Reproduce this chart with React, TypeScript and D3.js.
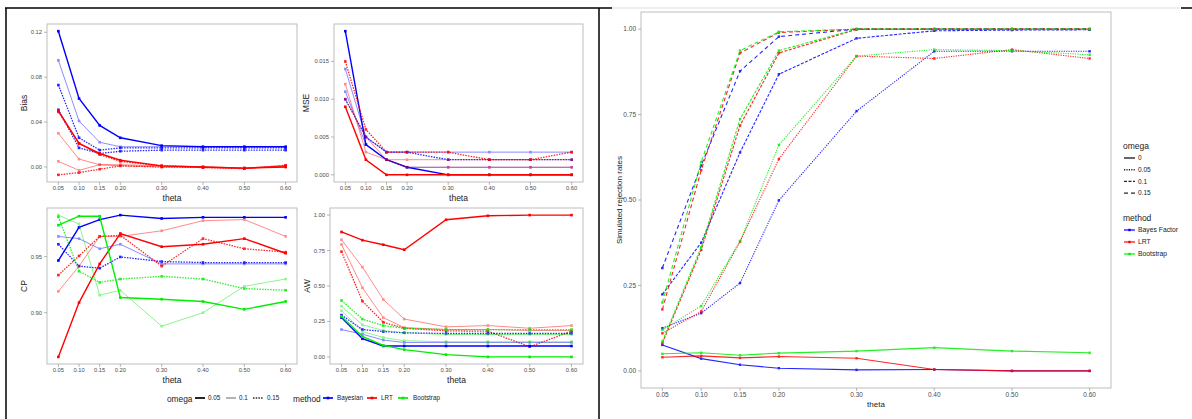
import React from 'react';
import * as d3 from 'd3';

// theta grid shared by every panel
const theta = [0.05, 0.1, 0.15, 0.2, 0.3, 0.4, 0.5, 0.6];

// left figure: Bias
const biasSeries = [
  { method: 'Bayesian', omega: '0.05', values: [0.121, 0.061, 0.037, 0.026, 0.019, 0.018, 0.018, 0.018] },
  { method: 'Bayesian', omega: '0.1', values: [0.095, 0.041, 0.022, 0.018, 0.018, 0.018, 0.018, 0.018] },
  { method: 'Bayesian', omega: '0.15', values: [0.073, 0.026, 0.015, 0.017, 0.017, 0.017, 0.017, 0.017] },
  { method: 'Bayesian', omega: '0.15', values: [0.051, 0.017, 0.012, 0.014, 0.015, 0.015, 0.015, 0.015] },
  { method: 'LRT', omega: '0.05', values: [0.050, 0.021, 0.012, 0.006, 0.001, 0.0, -0.001, 0.0] },
  { method: 'LRT', omega: '0.15', values: [0.049, 0.021, 0.011, 0.005, 0.001, 0.0, -0.001, 0.001] },
  { method: 'LRT', omega: '0.1', values: [0.030, 0.007, 0.002, 0.002, 0.001, 0.0, -0.001, 0.0] },
  { method: 'LRT', omega: '0.1', values: [0.005, -0.003, 0.002, 0.001, 0.0, -0.0005, -0.0015, 0.001] },
  { method: 'LRT', omega: '0.15', values: [-0.007, -0.005, -0.002, 0.001, 0.0, -0.0005, -0.0015, 0.0015] },
];

// left figure: MSE
const mseSeries = [
  { method: 'Bayesian', omega: '0.05', values: [0.019, 0.004, 0.002, 0.001, 0.0, 0.0, 0.0, 0.0] },
  { method: 'Bayesian', omega: '0.1', values: [0.014, 0.005, 0.003, 0.003, 0.003, 0.003, 0.003, 0.003] },
  { method: 'Bayesian', omega: '0.1', values: [0.011, 0.004, 0.002, 0.001, 0.001, 0.001, 0.001, 0.001] },
  { method: 'Bayesian', omega: '0.15', values: [0.010, 0.005, 0.003, 0.003, 0.002, 0.002, 0.002, 0.002] },
  { method: 'LRT', omega: '0.05', values: [0.009, 0.002, 0.0, 0.0, 0.0, 0.0, 0.0, 0.0] },
  { method: 'LRT', omega: '0.1', values: [0.012, 0.003, 0.002, 0.001, 0.001, 0.001, 0.001, 0.001] },
  { method: 'LRT', omega: '0.1', values: [0.010, 0.005, 0.002, 0.002, 0.002, 0.002, 0.002, 0.002] },
  { method: 'LRT', omega: '0.15', values: [0.015, 0.006, 0.003, 0.003, 0.003, 0.002, 0.002, 0.003] },
];

// left figure: CP
const cpSeries = [
  { method: 'Bayesian', omega: '0.05', values: [0.9465, 0.976, 0.983, 0.987, 0.984, 0.985, 0.985, 0.985] },
  { method: 'Bayesian', omega: '0.1', values: [0.968, 0.966, 0.957, 0.961, 0.9435, 0.9435, 0.9435, 0.9435] },
  { method: 'Bayesian', omega: '0.15', values: [0.961, 0.9415, 0.9397, 0.9497, 0.9456, 0.9447, 0.9447, 0.9447] },
  { method: 'LRT', omega: '0.05', values: [0.8606, 0.909, 0.9435, 0.9706, 0.9588, 0.961, 0.966, 0.953] },
  { method: 'LRT', omega: '0.1', values: [0.919, 0.9415, 0.968, 0.968, 0.973, 0.982, 0.983, 0.968] },
  { method: 'LRT', omega: '0.15', values: [0.9335, 0.9506, 0.968, 0.969, 0.9415, 0.966, 0.957, 0.954] },
  { method: 'Bootstrap', omega: '0.05', values: [0.978, 0.986, 0.986, 0.9135, 0.912, 0.91, 0.903, 0.91] },
  { method: 'Bootstrap', omega: '0.1', values: [0.987, 0.979, 0.9156, 0.92, 0.888, 0.9, 0.9235, 0.93] },
  { method: 'Bootstrap', omega: '0.15', values: [0.9855, 0.937, 0.927, 0.93, 0.9324, 0.93, 0.9215, 0.92] },
];

// left figure: AW
const awSeries = [
  { method: 'LRT', omega: '0.05', values: [0.881, 0.823, 0.791, 0.756, 0.967, 0.995, 1.0, 1.0] },
  { method: 'LRT', omega: '0.1', values: [0.826, 0.633, 0.405, 0.267, 0.212, 0.221, 0.202, 0.221] },
  { method: 'LRT', omega: '0.1', values: [0.793, 0.488, 0.277, 0.207, 0.193, 0.193, 0.186, 0.186] },
  { method: 'LRT', omega: '0.15', values: [0.742, 0.393, 0.244, 0.202, 0.184, 0.181, 0.072, 0.181] },
  { method: 'Bayesian', omega: '0.05', values: [0.277, 0.128, 0.077, 0.077, 0.077, 0.077, 0.077, 0.077] },
  { method: 'Bayesian', omega: '0.1', values: [0.193, 0.16, 0.119, 0.102, 0.102, 0.102, 0.102, 0.102] },
  { method: 'Bayesian', omega: '0.15', values: [0.295, 0.193, 0.179, 0.17, 0.165, 0.165, 0.165, 0.165] },
  { method: 'Bootstrap', omega: '0.05', values: [0.285, 0.144, 0.081, 0.051, 0.016, 0.0, 0.0, 0.0] },
  { method: 'Bootstrap', omega: '0.1', values: [0.326, 0.179, 0.137, 0.114, 0.107, 0.107, 0.107, 0.107] },
  { method: 'Bootstrap', omega: '0.15', values: [0.398, 0.267, 0.221, 0.202, 0.193, 0.193, 0.193, 0.193] },
  { method: 'Bootstrap', omega: '0.1', values: [0.358, 0.226, 0.186, 0.17, 0.158, 0.158, 0.158, 0.158] },
];

// right figure: simulated rejection rates
const rejSeries = [
  { method: 'Bayes Factor', omega: '0', values: [0.076, 0.036, 0.018, 0.008, 0.003, 0.004, 0.0, 0.0] },
  { method: 'LRT', omega: '0', values: [0.040, 0.044, 0.038, 0.042, 0.037, 0.004, 0.0, 0.0] },
  { method: 'Bootstrap', omega: '0', values: [0.050, 0.053, 0.046, 0.052, 0.058, 0.068, 0.058, 0.053] },
  { method: 'Bayes Factor', omega: '0.05', values: [0.125, 0.169, 0.257, 0.499, 0.76, 0.935, 0.935, 0.935] },
  { method: 'LRT', omega: '0.05', values: [0.110, 0.174, 0.378, 0.62, 0.921, 0.914, 0.94, 0.914] },
  { method: 'Bootstrap', omega: '0.05', values: [0.120, 0.19, 0.38, 0.661, 0.921, 0.94, 0.937, 0.925] },
  { method: 'Bayes Factor', omega: '0.1', values: [0.224, 0.375, 0.639, 0.868, 0.973, 0.995, 0.997, 0.998] },
  { method: 'LRT', omega: '0.1', values: [0.081, 0.354, 0.718, 0.93, 0.999, 1.0, 1.0, 1.0] },
  { method: 'Bootstrap', omega: '0.1', values: [0.086, 0.362, 0.737, 0.937, 1.0, 1.0, 1.0, 1.0] },
  { method: 'Bayes Factor', omega: '0.15', values: [0.301, 0.601, 0.877, 0.978, 1.0, 1.0, 1.0, 1.0] },
  { method: 'LRT', omega: '0.15', values: [0.18, 0.587, 0.93, 0.99, 1.0, 1.0, 1.0, 1.0] },
  { method: 'Bootstrap', omega: '0.15', values: [0.2, 0.611, 0.937, 0.992, 1.0, 1.0, 1.0, 1.0] },
];

const leftOmegas = ['0.05', '0.1', '0.15'];
const leftMethods = ['Bayesian', 'LRT', 'Bootstrap'];
const rightOmegas = ['0', '0.05', '0.1', '0.15'];
const rightMethods = ['Bayes Factor', 'LRT', 'Bootstrap'];

const colors = {
  Bayesian: '#0000FF',
  'Bayes Factor': '#0000FF',
  LRT: '#FF0000',
  Bootstrap: '#00EE00',
};

const leftStyle = {
  '0.05': { dash: null, width: 1.4, opacity: 1 },
  '0.1': { dash: null, width: 1, opacity: 0.45 },
  '0.15': { dash: '1.5,1.2', width: 1.3, opacity: 0.85 },
};
const rightStyle = {
  '0': { dash: null, width: 1.1, opacity: 0.85 },
  '0.05': { dash: '1.2,1.2', width: 1.1, opacity: 0.85 },
  '0.1': { dash: '3,1.5', width: 1.1, opacity: 0.85 },
  '0.15': { dash: '4,3', width: 1.1, opacity: 0.85 },
};

const FONT = 'Liberation Sans, Arial, sans-serif';
const tickCol = '#4d4d4d';

function Panel({ box, series, yTicks, yFmt, yLabel, yLabelX, styles, tickSize = 5.8, titleSize = 8.5, point = 2.6 }) {
  const [x0, x1, y0, y1] = box;
  const x = d3.scaleLinear().domain([0.05 - 0.0275, 0.6 + 0.0275]).range([x0, x1]);
  const all = series.flatMap((s) => s.values);
  const [mn, mx] = d3.extent(all);
  const pad = (mx - mn) * 0.05;
  const y = d3.scaleLinear().domain([mn - pad, mx + pad]).range([y1, y0]);
  const line = d3.line().x((d) => x(d[0])).y((d) => y(d[1]));
  const fmt = d3.format(yFmt);

  return (
    <g>
      <rect x={x0} y={y0} width={x1 - x0} height={y1 - y0} fill="#fff" stroke="#bdbdbd" strokeWidth={1} />
      {yTicks.map((t) => (
        <g key={'y' + t}>
          <line x1={x0 - 3} x2={x0} y1={y(t)} y2={y(t)} stroke="#888" strokeWidth={0.6} />
          <text x={x0 - 5} y={y(t)} dy="0.35em" textAnchor="end" fontSize={tickSize} fill={tickCol} fontFamily={FONT}>
            {fmt(t)}
          </text>
        </g>
      ))}
      {theta.map((t) => (
        <g key={'x' + t}>
          <line x1={x(t)} x2={x(t)} y1={y1} y2={y1 + 3} stroke="#888" strokeWidth={0.6} />
          <text x={x(t)} y={y1 + 4} dy="0.75em" textAnchor="middle" fontSize={tickSize} fill={tickCol} fontFamily={FONT}>
            {d3.format('.2f')(t)}
          </text>
        </g>
      ))}
      <text x={(x0 + x1) / 2} y={y1 + 16} dy="0.35em" textAnchor="middle" fontSize={titleSize} fill="#222" fontFamily={FONT}>
        theta
      </text>
      <text
        transform={`translate(${yLabelX},${(y0 + y1) / 2}) rotate(-90)`}
        textAnchor="middle"
        dy="0.35em"
        fontSize={titleSize}
        fill="#222"
        fontFamily={FONT}
      >
        {yLabel}
      </text>
      {series.map((s, i) => {
        const st = styles[s.omega];
        const pts = theta.map((t, j) => [t, s.values[j]]);
        return (
          <g key={i} opacity={st.opacity}>
            <path d={line(pts)} fill="none" stroke={colors[s.method]} strokeWidth={st.width} strokeDasharray={st.dash || undefined} />
            {pts.map((p, j) => (
              <rect key={j} x={x(p[0]) - point / 2} y={y(p[1]) - point / 2} width={point} height={point} fill={colors[s.method]} />
            ))}
          </g>
        );
      })}
    </g>
  );
}

function LegendKey({ x, y, color, st, w = 10 }) {
  return (
    <line x1={x} x2={x + w} y1={y} y2={y} stroke={color} strokeWidth={st.width + 0.3} strokeDasharray={st.dash || undefined} opacity={st.opacity} />
  );
}

export default function App() {
  const leftLegendOmega = [
    { label: '0.05', x: 195, tx: 208 },
    { label: '0.1', x: 226, tx: 239 },
    { label: '0.15', x: 253, tx: 267 },
  ];
  const leftLegendMethod = [
    { label: 'Bayesian', x: 323, tx: 337 },
    { label: 'LRT', x: 367, tx: 381 },
    { label: 'Bootstrap', x: 398, tx: 413 },
  ];
  return (
    <svg width={1192} height={419} style={{ position: 'absolute', left: 0, top: 0, background: '#fff' }}>
      <rect width={1192} height={419} fill="#fff" />
      {/* frames */}
      <line x1={5} x2={612} y1={8} y2={8} stroke="#000" strokeWidth={1.5} />
      <line x1={6} x2={6} y1={8} y2={419} stroke="#000" strokeWidth={1.5} />
      <line x1={599} x2={599} y1={8} y2={419} stroke="#000" strokeWidth={1.5} />
      <line x1={612} x2={1180} y1={8} y2={8} stroke="#ddd" strokeWidth={1} />
      <line x1={1181} x2={1192} y1={8} y2={8} stroke="#000" strokeWidth={1.5} />

      <Panel box={[47, 297, 24, 182]} series={biasSeries} yTicks={[0, 0.04, 0.08, 0.12]} yFmt=".2f" yLabel="Bias" yLabelX={24} styles={leftStyle} />
      <Panel box={[334, 583, 24, 182]} series={mseSeries} yTicks={[0, 0.005, 0.01, 0.015]} yFmt=".3f" yLabel="MSE" yLabelX={306} styles={leftStyle} />
      <Panel box={[47, 297, 208, 364]} series={cpSeries} yTicks={[0.9, 0.95]} yFmt=".2f" yLabel="CP" yLabelX={24} styles={leftStyle} />
      <Panel box={[330, 583, 208, 364]} series={awSeries} yTicks={[0, 0.25, 0.5, 0.75, 1]} yFmt=".2f" yLabel="AW" yLabelX={307} styles={leftStyle} />

      {/* left legend */}
      <text x={167} y={399} dy="0.35em" fontSize={8.3} fill="#222" fontFamily={FONT}>omega</text>
      {leftLegendOmega.map((d, i) => (
        <g key={d.label}>
          <LegendKey x={d.x} y={398} color="#000" st={leftStyle[leftOmegas[i]]} />
          <text x={d.tx} y={398} dy="0.35em" fontSize={6.3} fill="#222" fontFamily={FONT}>{d.label}</text>
        </g>
      ))}
      <text x={293} y={399} dy="0.35em" fontSize={8.3} fill="#222" fontFamily={FONT}>method</text>
      {leftLegendMethod.map((d, i) => (
        <g key={d.label}>
          <LegendKey x={d.x} y={398} color={colors[leftMethods[i]]} st={leftStyle['0.05']} />
          <rect x={d.x + 3.7} y={396.7} width={2.6} height={2.6} fill={colors[leftMethods[i]]} />
          <text x={d.tx} y={398} dy="0.35em" fontSize={6.3} fill="#222" fontFamily={FONT}>{d.label}</text>
        </g>
      ))}

      {/* right figure */}
      <Panel
        box={[641, 1111, 12, 388]}
        series={rejSeries}
        yTicks={[0, 0.25, 0.5, 0.75, 1]}
        yFmt=".2f"
        yLabel="Simulated rejection rates"
        yLabelX={619}
        styles={rightStyle}
        tickSize={6.5}
        titleSize={8}
        point={2.4}
      />
      <text x={1123} y={146} dy="0.35em" fontSize={8.5} fill="#222" fontFamily={FONT}>omega</text>
      {rightOmegas.map((o, i) => (
        <g key={o}>
          <LegendKey x={1124} y={158 + i * 11.7} color="#000" st={rightStyle[o]} w={11} />
          <text x={1138} y={158 + i * 11.7} dy="0.35em" fontSize={6.5} fill="#222" fontFamily={FONT}>{o}</text>
        </g>
      ))}
      <text x={1123} y={218} dy="0.35em" fontSize={8.5} fill="#222" fontFamily={FONT}>method</text>
      {rightMethods.map((m, i) => (
        <g key={m}>
          <LegendKey x={1124} y={230 + i * 12} color={colors[m]} st={rightStyle['0']} w={11} />
          <rect x={1128.3} y={228.8 + i * 12} width={2.4} height={2.4} fill={colors[m]} />
          <text x={1138} y={230 + i * 12} dy="0.35em" fontSize={6.8} fill="#222" fontFamily={FONT}>{m}</text>
        </g>
      ))}
    </svg>
  );
}
